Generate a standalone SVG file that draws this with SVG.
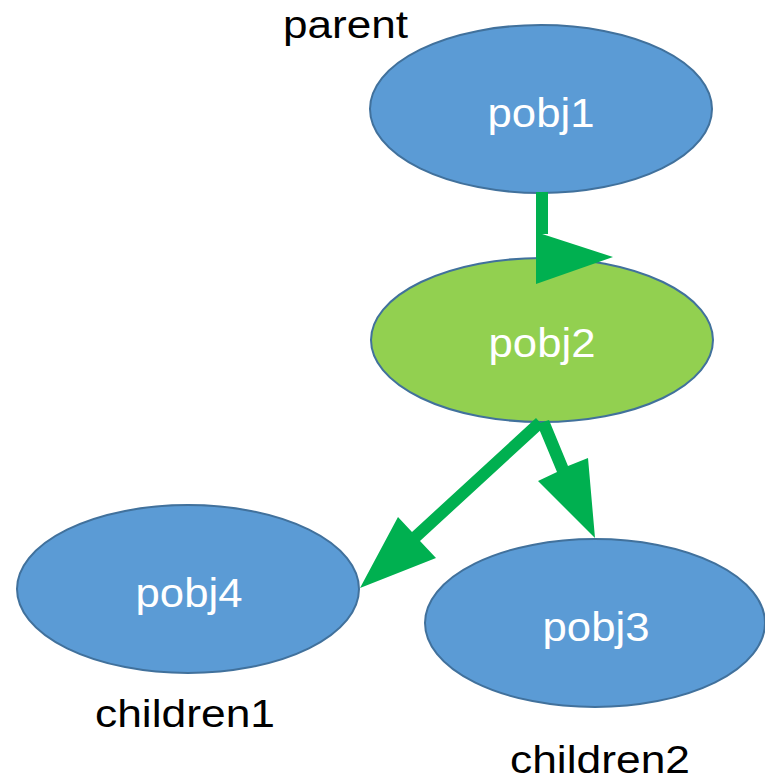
<svg xmlns="http://www.w3.org/2000/svg" width="765" height="780" viewBox="0 0 765 780">
  <style>
    .node { stroke: #41719C; stroke-width: 2; }
    .blue { fill: #5B9BD5; }
    .green { fill: #92D050; }
    .label { font-family: "Liberation Sans", Arial, sans-serif; font-size: 40px; fill: #ffffff; text-anchor: middle; }
    .caption { font-family: "Liberation Sans", Arial, sans-serif; font-size: 38px; fill: #000000; }
    .link { fill: #00B050; }
  </style>

  <rect width="765" height="780" fill="#ffffff"/>

  <g id="pobj1">
    <ellipse class="node blue" cx="541" cy="109" rx="171" ry="84"/>
    <text class="label" x="541" y="127" textLength="107" lengthAdjust="spacingAndGlyphs">pobj1</text>
  </g>

  <g id="pobj2">
    <ellipse class="node green" cx="542" cy="340" rx="171" ry="82"/>
    <text class="label" x="542" y="357" textLength="107" lengthAdjust="spacingAndGlyphs">pobj2</text>
  </g>

  <g id="pobj4">
    <ellipse class="node blue" cx="188" cy="589" rx="171" ry="84"/>
    <text class="label" x="189" y="607" textLength="107" lengthAdjust="spacingAndGlyphs">pobj4</text>
  </g>

  <g id="pobj3">
    <ellipse class="node blue" cx="595" cy="623" rx="170" ry="84"/>
    <text class="label" x="596" y="641" textLength="107" lengthAdjust="spacingAndGlyphs">pobj3</text>
  </g>

  <g id="captions">
    <text class="caption" x="283" y="38" textLength="125" lengthAdjust="spacingAndGlyphs">parent</text>
    <text class="caption" x="95" y="727" textLength="180" lengthAdjust="spacingAndGlyphs">children1</text>
    <text class="caption" x="510" y="773" textLength="180" lengthAdjust="spacingAndGlyphs">children2</text>
  </g>

  <g id="connectors">
    <!-- pobj1 -> pobj2: vertical shaft with a sideways head -->
    <rect class="link" x="536" y="192" width="12" height="42"/>
    <polygon class="link" points="536,232 536,284 613,257"/>
    <!-- pobj2 -> pobj4 -->
    <polygon class="link" points="536,418 544,427 420,541 436,558 360,588 398,517 412,532"/>
    <!-- pobj2 -> pobj3 -->
    <polygon class="link" points="537,424 549,420 568,466 588,458 595,538 538,481 557,472"/>
  </g>
</svg>
